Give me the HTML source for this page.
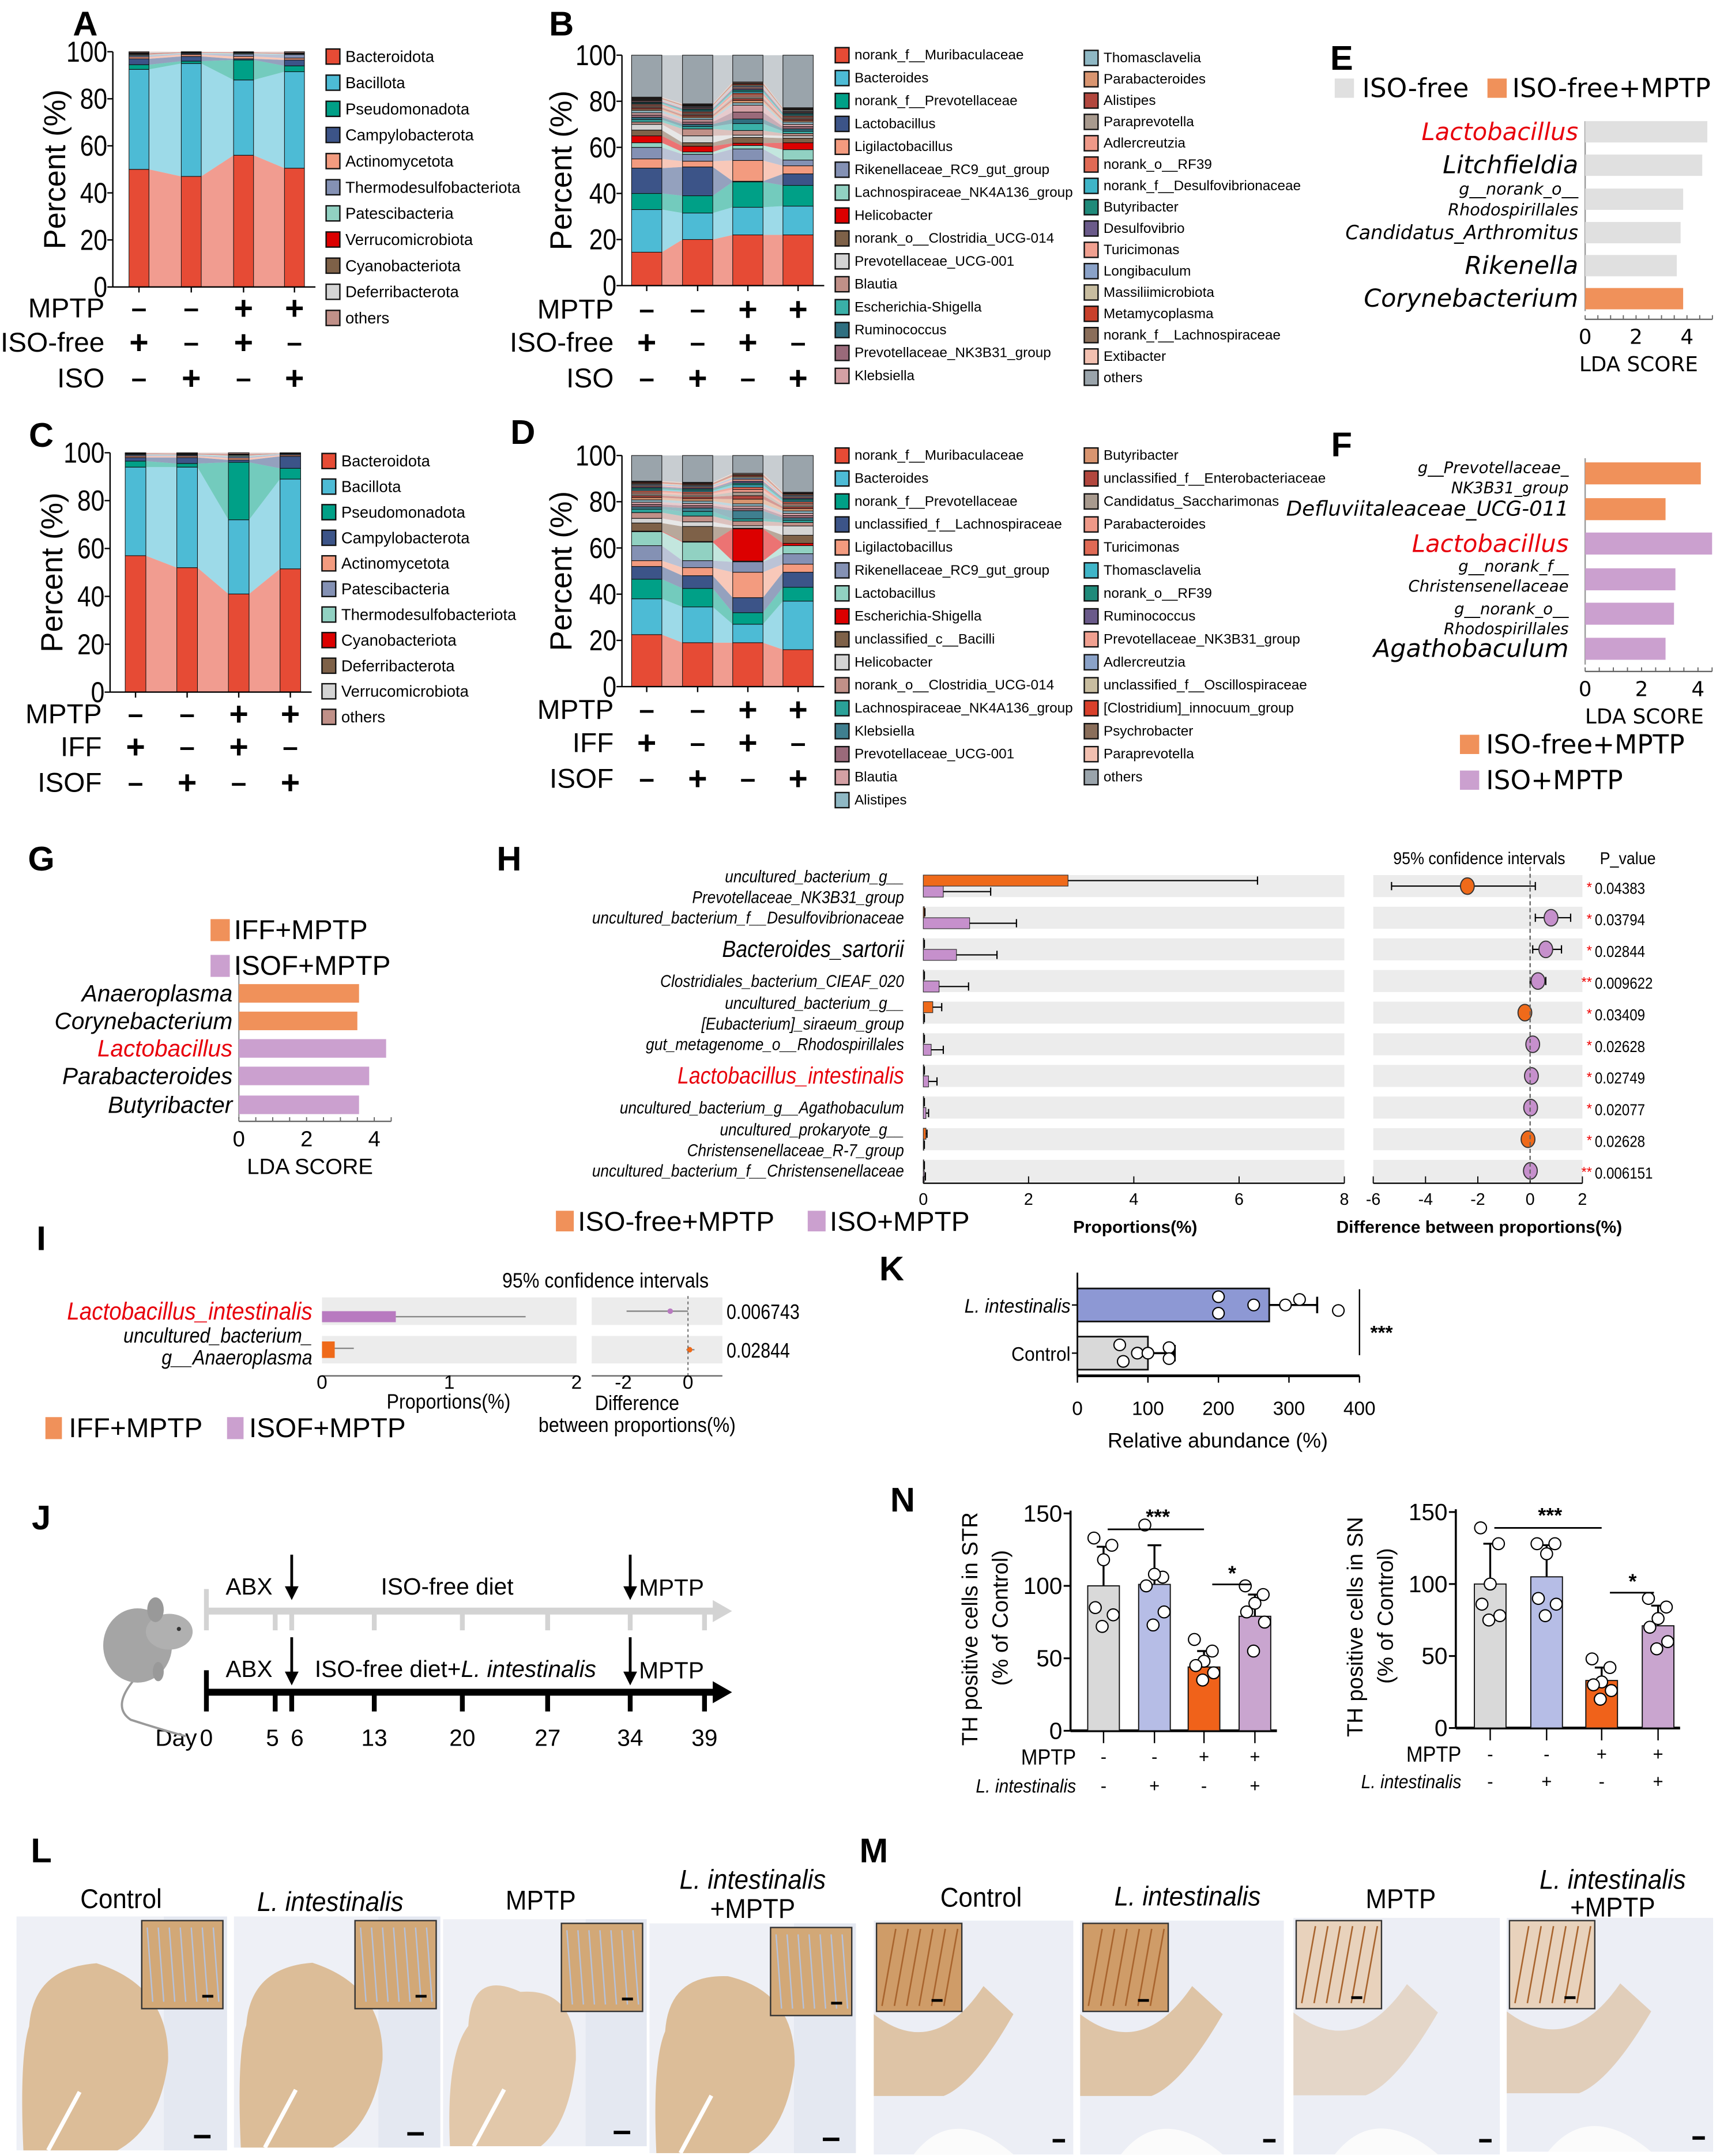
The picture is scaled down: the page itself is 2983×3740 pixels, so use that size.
<!DOCTYPE html>
<html><head><meta charset="utf-8"><style>html,body{margin:0;padding:0;background:#fff}svg{display:block}</style></head>
<body>
<svg id="fig" xmlns="http://www.w3.org/2000/svg" width="2983" height="3740" viewBox="0 0 1250 1567" font-family="'Liberation Sans', Arial, sans-serif">
<rect x="0" y="0" width="1250" height="1567" fill="#fff"/>
</svg>
<script>
// ---------- DATA ----------
const groupsABCD = ['g1','g2','g3','g4'];
const phylaA = ['Bacteroidota','Bacillota','Pseudomonadota','Campylobacterota','Actinomycetota','Thermodesulfobacteriota','Patescibacteria','Verrucomicrobiota','Cyanobacteriota','Deferribacterota','others'];
const colA = ['#e64b35','#4dbbd5','#00a087','#3c5488','#f39b7f','#8491b4','#91d1c2','#dc0000','#7e6148','#d4d4d4','#c09088'];
const valsA = [[50,47,56,50.5],[42.5,48,32,41],[2,1,8.5,2.5],[2.5,2,0.5,2.5],[0.8,0.8,1,0.8],[0.6,0.4,1,1.5],[0.4,0.3,0.4,0.3],[0.3,0.2,0.2,0.2],[0.3,0.1,0.1,0.1],[0.2,0.1,0.1,0.1]];
const phylaC = ['Bacteroidota','Bacillota','Pseudomonadota','Campylobacterota','Actinomycetota','Patescibacteria','Thermodesulfobacteriota','Cyanobacteriota','Deferribacterota','Verrucomicrobiota','others'];
const colC = ['#e64b35','#4dbbd5','#00a087','#3c5488','#f39b7f','#8491b4','#91d1c2','#dc0000','#7e6148','#d4d4d4','#c09088'];
const valsC = [[57,52,41,51.5],[37,42,31,37.5],[2.5,1.5,24,4.5],[1.5,2.5,1,5],[0.6,0.6,0.8,0.5],[0.5,0.4,0.6,0.4],[0.3,0.3,0.5,0.2],[0.2,0.2,0.3,0.1],[0.2,0.1,0.2,0.1],[0.1,0.1,0.1,0.1]];
const generaB = ['norank_f__Muribaculaceae','Bacteroides','norank_f__Prevotellaceae','Lactobacillus','Ligilactobacillus','Rikenellaceae_RC9_gut_group','Lachnospiraceae_NK4A136_group','Helicobacter','norank_o__Clostridia_UCG-014','Prevotellaceae_UCG-001','Blautia','Escherichia-Shigella','Ruminococcus','Prevotellaceae_NK3B31_group','Klebsiella','Thomasclavelia','Parabacteroides','Alistipes','Paraprevotella','Adlercreutzia','norank_o__RF39','norank_f__Desulfovibrionaceae','Butyribacter','Desulfovibrio','Turicimonas','Longibaculum','Massiliimicrobiota','Metamycoplasma','norank_f__Lachnospiraceae','Extibacter','others'];
const colB = ['#e64b35','#4dbbd5','#00a087','#3c5488','#f39b7f','#8491b4','#91d1c2','#dc0000','#7e6148','#d4d4d4','#c09088','#3ab0a8','#2f6f80','#9a6a7a','#d4a0a4','#8fb8c4','#d99570','#b2473e','#a89a8e','#ee9988','#e06a55','#3fb5c8','#1f8a7a','#6a5a8a','#f0a090','#8aa2c8','#c8bda0','#c8402b','#8a6e5a','#f2c0b0','#9aa4ab'];
const valsB = [[14.5,20,22,22],[18.5,11.5,12,12.5],[7,7.5,11,9],[11,12.5,0.3,5],[4,2.5,9,3.5],[5,3,5,2.5],[2,1,1.5,4.5],[3,2.5,1,3],[2.5,1.5,2.5,2],[2.5,3,1,1],[1,3,2,1],[1,1,3,1],[1,1,2,1],[1,1,3,1],[1,1,3,1],[1,0.8,1,1],[0.6,0.6,1,0.6],[0.6,0.6,0.8,0.6],[0.5,0.5,0.8,0.5],[0.5,0.5,0.8,0.5],[0.5,0.5,0.8,0.5],[0.4,0.5,0.7,0.5],[0.4,0.5,0.7,0.5],[0.4,0.4,0.6,0.4],[0.4,0.4,0.6,0.4],[0.3,0.4,0.5,0.4],[0.3,0.3,0.5,0.4],[0.3,0.3,0.5,0.3],[0.3,0.3,0.4,0.3],[0.3,0.3,0.4,0.3]];
const generaD = ['norank_f__Muribaculaceae','Bacteroides','norank_f__Prevotellaceae','unclassified_f__Lachnospiraceae','Ligilactobacillus','Rikenellaceae_RC9_gut_group','Lactobacillus','Escherichia-Shigella','unclassified_c__Bacilli','Helicobacter','norank_o__Clostridia_UCG-014','Lachnospiraceae_NK4A136_group','Klebsiella','Prevotellaceae_UCG-001','Blautia','Alistipes','Butyribacter','unclassified_f__Enterobacteriaceae','Candidatus_Saccharimonas','Parabacteroides','Turicimonas','Thomasclavelia','norank_o__RF39','Ruminococcus','Prevotellaceae_NK3B31_group','Adlercreutzia','unclassified_f__Oscillospiraceae','[Clostridium]_innocuum_group','Psychrobacter','Paraprevotella','others'];
const colD = ['#e64b35','#4dbbd5','#00a087','#3c5488','#f39b7f','#8491b4','#91d1c2','#dc0000','#7e6148','#d4d4d4','#c09088','#2aa198','#3f7f8f','#9a6a7a','#d4a0a4','#8fb8c4','#d99570','#b2473e','#a89a8e','#ee9988','#e06a55','#3fb5c8','#1f8a7a','#6a5a8a','#f0a090','#8aa2c8','#c8bda0','#d9402b','#8a6e5a','#f2c0b0','#9aa4ab'];
const valsD = [[22.5,19,19,16],[15.5,15.5,8,21],[8.5,8,5,6],[5.5,5.5,6.5,6.5],[2.5,3.5,11,3.5],[6.5,3,4.5,4.5],[6,8,0.3,3.5],[0.3,0.3,14,1],[3.5,6.5,0.3,3.5],[2,2,1,4],[2.5,2.5,2,1.5],[1.5,2,1,1],[1,1.5,3.5,1],[1,1,1,1],[1,1,1,1],[1,1,1,1],[1,1,2,1],[0.8,0.8,1.5,0.8],[0.8,0.8,1.5,0.8],[0.7,0.7,1.2,0.7],[0.7,0.7,1,0.7],[0.6,0.6,1,0.6],[0.6,0.6,0.8,0.6],[0.5,0.5,0.8,0.5],[0.5,0.5,0.8,0.5],[0.5,0.5,0.6,0.5],[0.4,0.4,0.6,0.4],[0.4,0.4,0.5,0.4],[0.3,0.3,0.5,0.3],[0.3,0.3,0.4,0.3]];
const ldaE_labels = [['Lactobacillus'],['Litchfieldia'],['g__norank_o__','Rhodospirillales'],['Candidatus_Arthromitus'],['Rikenella'],['Corynebacterium']];
const ldaE_values = [4.8,4.6,3.85,3.75,3.6,3.85];
const ldaE_groups = [0,0,0,0,0,1];
const ldaF_labels = [['g__Prevotellaceae_','NK3B31_group'],['Defluviitaleaceae_UCG-011'],['Lactobacillus'],['g__norank_f__','Christensenellaceae'],['g__norank_o__','Rhodospirillales'],['Agathobaculum']];
const ldaF_values = [4.1,2.85,4.5,3.2,3.15,2.85];
const ldaF_groups = [0,0,1,1,1,1];
const ldaG_labels = ['Anaeroplasma','Corynebacterium','Lactobacillus','Parabacteroides','Butyribacter'];
const ldaG_values = [3.55,3.5,4.35,3.85,3.55];
const ldaG_groups = [0,0,1,1,1];
const hLabels = [['uncultured_bacterium_g__','Prevotellaceae_NK3B31_group'],['uncultured_bacterium_f__Desulfovibrionaceae'],['Bacteroides_sartorii'],['Clostridiales_bacterium_CIEAF_020'],['uncultured_bacterium_g__','[Eubacterium]_siraeum_group'],['gut_metagenome_o__Rhodospirillales'],['Lactobacillus_intestinalis'],['uncultured_bacterium_g__Agathobaculum'],['uncultured_prokaryote_g__','Christensenellaceae_R-7_group'],['uncultured_bacterium_f__Christensenellaceae']];
const hIsoFree = [2.75,0.02,0.01,0.01,0.18,0.01,0.01,0.01,0.05,0.01];
const hIsoFreeErr = [6.35,0.03,0.02,0.02,0.35,0.02,0.02,0.02,0.07,0.02];
const hIso = [0.38,0.88,0.63,0.3,0.01,0.15,0.1,0.05,0.01,0.02];
const hIsoErr = [1.28,1.77,1.4,0.86,0.02,0.38,0.26,0.1,0.02,0.04];
const hDiff = [-2.4,0.8,0.6,0.3,-0.2,0.1,0.05,0.02,-0.08,0.01];
const hLo = [-5.3,0.2,0.1,0.0,-0.3,0.0,0.0,-0.02,-0.15,-0.02];
const hHi = [0.2,1.55,1.2,0.6,-0.1,0.2,0.1,0.06,0.0,0.04];
const hP = ['0.04383','0.03794','0.02844','0.009622','0.03409','0.02628','0.02749','0.02077','0.02628','0.006151'];
const hStars = ['*','*','*','**','*','*','*','*','*','**'];
const iIsof = [0.58,0.0];
const iIsofErr = [1.6,0.0];
const iIff = [0.0,0.1];
const iIffErr = [0.0,0.25];
const iDiff = [-0.55,0.05];
const iLo = [-1.9,-0.05];
const iHi = [0.0,0.2];
const iP = ['0.006743','0.02844'];
const kCats = ['L. intestinalis','Control'];
const kMeans = [272,100];
const kSd = [68,38];
const kPoints = [[200,200,250,295,315,370],[60,65,85,100,130,130]];
const nGroups = ['Control','L. intestinalis','MPTP','L. intestinalis+MPTP'];
const nSTR = [100,101,44,79];
const nSTRsd = [27,27,11,15];
const nSTRpts = [[133,128,118,85,80,72],[142,106,108,100,82,73],[63,55,48,45,40,35],[100,94,88,82,75,55]];
const nSN = [100,105,33,71];
const nSNsd = [28,22,9,14];
const nSNpts = [[139,128,100,86,78,75],[128,128,121,90,86,78],[48,42,32,30,26,20],[90,84,76,70,60,55]];
const days = [0,5,6,13,20,27,34,39];

// ---------- HELPERS ----------
const NS='http://www.w3.org/2000/svg';
const svg=document.getElementById('fig');
function mk(tag,at,par){const e=document.createElementNS(NS,tag);for(const k in at)e.setAttribute(k,at[k]);(par||svg).appendChild(e);return e;}
function tx(s,x,y,size,o){o=o||{};const e=mk('text',{x:x,y:y,'font-size':size,'text-anchor':o.a||'start',fill:o.c||'#000','dominant-baseline':'central'});
 if(o.i)e.setAttribute('font-style','italic'); if(o.b)e.setAttribute('font-weight','bold'); if(o.f)e.setAttribute('font-family',o.f);
 if(o.r)e.setAttribute('transform','rotate(-90 '+x+' '+y+')'); if(o.sx)e.setAttribute('transform','translate('+x+' '+y+') scale('+o.sx+' 1) translate('+(-x)+' '+(-y)+')');
 e.textContent=s;return e;}
function line(x1,y1,x2,y2,c,w,par){return mk('line',{x1:x1,y1:y1,x2:x2,y2:y2,stroke:c||'#000','stroke-width':w||1},par);}

const letters=[['A',62,17],['B',408,17],['E',975,42],['C',30,316],['D',380,314],['F',975,323],['G',30,624],['H',370,624],['I',30,900],['K',648,922],['J',30,1103],['N',656,1090],['L',30,1345],['M',635,1345]];
letters.forEach(l=>{const t=tx(l[0],l[1],l[2],25,{b:true,a:'middle'});
 
 });

// ---------- STACKED ----------
function stacked(pid,vals,cols,names,ax){
 const g=mk('g',{});
 
 
 const Y=v=>ax.yb-(ax.yb-ax.yt)*v/100;
 const n=ax.cx.length;
 const series=vals.map(a=>a.slice());
 const others=[];for(let i=0;i<n;i++){let s=0;vals.forEach(a=>s+=a[i]);others.push(Math.max(0,100-s));}
 series.push(others);
 const cum=new Array(n).fill(0);
 series.forEach((arr,si)=>{
  const lo=cum.slice(),hi=cum.map((c,i)=>c+arr[i]);
  for(let i=0;i<n-1;i++){
   const x1=ax.cx[i]+ax.w/2,x2=ax.cx[i+1]-ax.w/2;
   const p=mk('polygon',{points:`${x1},${Y(hi[i])} ${x2},${Y(hi[i+1])} ${x2},${Y(lo[i+1])} ${x1},${Y(lo[i])}`,fill:cols[si],'fill-opacity':0.55},g);
   
   
  }
  for(let i=0;i<n;i++){
   const r=mk('rect',{x:ax.cx[i]-ax.w/2,y:Y(hi[i]),width:ax.w,height:Math.max(0,Y(lo[i])-Y(hi[i])),fill:cols[si],stroke:'#111','stroke-width':0.45},g);
   
   
  }
  for(let i=0;i<n;i++)cum[i]=hi[i];
 });
 line(ax.ax,ax.yt,ax.ax,ax.yb,'#000',1,g);
 line(ax.ax,ax.yb,ax.cx[n-1]+ax.w/2+8,ax.yb,'#000',1,g);
 [0,20,40,60,80,100].forEach(t=>{line(ax.ax-4,Y(t),ax.ax,Y(t),'#000',1,g);
  const tt=tx(String(t),ax.ax-4,Y(t),21,{a:'end'});tt.setAttribute('transform','translate('+(ax.ax-4)+' '+Y(t)+') scale(0.85 1) translate('+(-(ax.ax-4))+' '+(-Y(t))+')');
  
  });
 ax.cx.forEach(c=>line(c,ax.yb,c,ax.yb+4,'#000',1,g));
 const yl=tx('Percent (%)',ax.ylx,(ax.yt+ax.yb)/2,22,{a:'middle',r:true});
 
 
 ax.rows.forEach(rw=>{const lb=tx(rw[0],ax.ax-6,rw[1],20,{a:'end'});
  
  
  rw[2].forEach((s,i)=>{const st=tx(s==='+'?'+':'\u2013',ax.cx[i],rw[1],s==='+'?24:20,{a:'middle',b:true});
   
   });});
}
function legend(names,cols,x,y0,step,size){
 names.forEach((nm,i)=>{const r=mk('rect',{x:x,y:y0+i*step-5.5,width:10,height:11,fill:cols[i],stroke:'#111','stroke-width':1});
  
  
  const t=tx(nm,x+14,y0+i*step,size);
  
  });
}
stacked('a',valsA,colA,phylaA,{ax:82,yt:37.5,yb:208.5,cx:[101,139,177,214],w:14.5,ylx:40,
 rows:[['MPTP',224,['-','-','+','+']],['ISO-free',249,['+','-','+','-']],['ISO',275,['-','+','-','+']]]});
legend(phylaA,colA,237,41,19,11.5);
stacked('c',valsC,colC,phylaC,{ax:80,yt:329,yb:503,cx:[98.5,136,173.5,211],w:15,ylx:38,
 rows:[['MPTP',519,['-','-','+','+']],['IFF',543,['+','-','+','-']],['ISOF',569,['-','+','-','+']]]});
legend(phylaC,colC,234,335,18.6,11.5);
stacked('b',valsB,colB,generaB,{ax:452,yt:40,yb:207.5,cx:[470,507,543.5,580],w:22,ylx:408,
 rows:[['MPTP',225,['-','-','+','+']],['ISO-free',249,['+','-','+','-']],['ISO',275,['-','+','-','+']]]});
legend(generaB.slice(0,15),colB.slice(0,15),607,40,16.65,10.2);
legend(generaB.slice(15),colB.slice(15),788,42,15.5,10.2);
stacked('d',valsD,colD,generaD,{ax:452,yt:331,yb:499,cx:[470,507,543.5,580],w:22,ylx:408,
 rows:[['MPTP',516,['-','-','+','+']],['IFF',540,['+','-','+','-']],['ISOF',566,['-','+','-','+']]]});
legend(generaD.slice(0,16),colD.slice(0,16),607,331,16.7,10.2);
legend(generaD.slice(16),colD.slice(16),788,331,16.7,10.2);

// ---------- LDA ----------
const ORANGE='#f0915a',PURPLE='#cba0cf',LGRAY='#e0e0e0';
function lda(pid,labels,values,groups,gcols,o){
 const X=v=>o.x0+v*o.k;
 line(o.x0,o.yt,o.x0,o.yb,'#999',1);
 line(o.x0,o.axy,o.x0+o.k*o.max,o.axy,'#666',1);
 for(let t=0;t<=o.max;t+=0.5){line(X(t),o.axy,X(t),o.axy-3,'#666',0.8);}
 [0,2,4].forEach(t=>{const tt=tx(String(t),X(t),o.axy+13,o.ts,{a:'middle',f:o.font});
  
  });
 const xt=tx('LDA SCORE',o.x0+o.k*2.1,o.axy+33,o.ts,{a:'middle',f:o.font});
 
 
 values.forEach((v,i)=>{const y=o.rows[i];
  const r=mk('rect',{x:o.x0,y:y-o.bh/2,width:X(v)-o.x0,height:o.bh,fill:gcols[groups[i]]});
  
  
  const lb=labels[i];
  if(typeof lb==='string'||lb.length===1){const s=typeof lb==='string'?lb:lb[0];
   const t=tx(s,o.lx,y,o.fs1(s),{a:'end',i:true,c:s==='Lactobacillus'?'#e8000b':'#000',f:o.font});
   
   }
  else{const off=(o.off&&o.off[i])||0;lb.forEach((s,j)=>{const t=tx(s,o.lx,y+off-o.ls/2+j*o.ls,o.fs2,{a:'end',i:true,f:o.font});
   
   });}
 });
}
const DV="'DejaVu Sans', Verdana, sans-serif";
lda('e',ldaE_labels,ldaE_values,ldaE_groups,[LGRAY,ORANGE],{x0:1152,k:18.5,max:5,yt:88,yb:226,axy:232,rows:[95.7,120,144.7,169,193,217],bh:15.5,lx:1147,ts:15,font:DV,fs2:12,ls:15,
 fs1:s=>s==='Candidatus_Arthromitus'?14:(s==='Lactobacillus'?17.5:18)});
lda('f',ldaF_labels,ldaF_values,ldaF_groups,[ORANGE,PURPLE],{x0:1152,k:20.5,max:4.5,yt:333,yb:483,axy:488,rows:[344,370,395,421,446,471.5],bh:16,lx:1140,ts:15,font:DV,fs2:11.5,ls:14.5,off:[3.5,0,0,-2,4,0],
 fs1:s=>s==='Defluviitaleaceae_UCG-011'?15:(s==='Agathobaculum'?18:17.5)});
lda('g',ldaG_labels,ldaG_values,ldaG_groups,[ORANGE,PURPLE],{x0:173.6,k:24.6,max:4.5,yt:705,yb:813,axy:815,rows:[722,742,762,782,803],bh:13.5,lx:169,ts:16,font:"'Liberation Sans', Arial, sans-serif",fs2:12,ls:15,
 fs1:s=>17});
[[970,LGRAY,'ISO-free',990],[1081,ORANGE,'ISO-free+MPTP',1099]].forEach(l=>{const r=mk('rect',{x:l[0],y:57,width:14,height:14,fill:l[1]});
 
 
 const t=tx(l[2],l[3],64,19,{f:DV});
 
 });
[[541,ORANGE,'ISO-free+MPTP'],[567,PURPLE,'ISO+MPTP']].forEach(l=>{const r=mk('rect',{x:1061,y:l[0]-7,width:14,height:14,fill:l[1]});
 
 
 const t=tx(l[2],1080,l[0],19,{f:DV});
 
 });
[[676,ORANGE,'IFF+MPTP'],[702,PURPLE,'ISOF+MPTP']].forEach(l=>{const r=mk('rect',{x:153,y:l[0]-8,width:14,height:16,fill:l[1]});
 
 
 const t=tx(l[2],170,l[0],20);
 
 });

// ---------- PANEL H ----------
const HOR='#ef6a1a',HPU='#c690cc';
const hx0=671,hk=(977-671)/8; const HX=v=>hx0+v*hk;
const dx0=998,dk=(1150-998)/8; const DX=v=>dx0+(v+6)*dk;
hLabels.forEach((lb,i)=>{
 const y=644+i*23;
 const s1=mk('rect',{x:hx0,y:y-8,width:977-hx0,height:16,fill:'#ececec'});
 
 
 const s2=mk('rect',{x:dx0,y:y-8,width:1150-dx0,height:16,fill:'#ececec'});
 
 
 const b1=mk('rect',{x:hx0,y:y-8,width:HX(hIsoFree[i])-hx0,height:8,fill:HOR,stroke:'#333','stroke-width':0.5});
 
 
 line(HX(hIsoFree[i]),y-4,HX(hIsoFreeErr[i]),y-4,'#000',0.9);
 line(HX(hIsoFreeErr[i]),y-7,HX(hIsoFreeErr[i]),y-1,'#000',0.9);
 const b2=mk('rect',{x:hx0,y:y,width:HX(hIso[i])-hx0,height:8,fill:HPU,stroke:'#333','stroke-width':0.5});
 
 
 line(HX(hIso[i]),y+4,HX(hIsoErr[i]),y+4,'#000',0.9);
 line(HX(hIsoErr[i]),y+1,HX(hIsoErr[i]),y+7,'#000',0.9);
 line(DX(hLo[i]),y,DX(hHi[i]),y,'#000',0.9);
 line(DX(hLo[i]),y-3,DX(hLo[i]),y+3,'#000',0.9);
 line(DX(hHi[i]),y-3,DX(hHi[i]),y+3,'#000',0.9);
 const c=mk('ellipse',{cx:DX(hDiff[i]),cy:y,rx:5,ry:6,fill:hDiff[i]<0?HOR:HPU,stroke:'#333','stroke-width':0.8});
 
 
 const st=tx(hStars[i],1157,y+1,10,{a:'end',c:'#e00'});
 
 
 const pv=tx(hP[i],1159,y+2,11.5,{sx:0.88});
 
 
 if(lb.length===1){const s=lb[0];const big=(s==='Bacteroides_sartorii'||s==='Lactobacillus_intestinalis');
  const t=tx(s,657,y,big?17:12.5,{a:'end',i:true,c:s==='Lactobacillus_intestinalis'?'#e8000b':'#000',sx:0.88});
  
  }
 else{lb.forEach((s,j)=>{const t=tx(s,657,y-7+j*15,12.5,{a:'end',i:true,sx:0.88});
  
  });}
});
line(hx0,860,977,860,'#000',1); line(dx0,860,1150,860,'#000',1);
for(let t=0;t<=8;t+=2){line(HX(t),860,HX(t),855,'#000',0.8);const tt=tx(String(t),HX(t),872,12,{a:'middle'});
 
 }
for(let t=-6;t<=2;t+=2){line(DX(t),860,DX(t),855,'#000',0.8);const tt=tx(String(t),DX(t),872,12,{a:'middle'});
 
 }
mk('line',{x1:DX(0),y1:630,x2:DX(0),y2:860,stroke:'#666','stroke-width':1,'stroke-dasharray':'3,2'});
[['95% confidence intervals',1075,624,12.5],['P_value',1183,624,12.5]].forEach(a=>{const t=tx(a[0],a[1],a[2],a[3],{a:'middle',sx:0.9});
 
 });
[['Proportions(%)',825,892],['Difference between proportions(%)',1075,892]].forEach(a=>{const t=tx(a[0],a[1],a[2],12.5,{a:'middle',b:true});
 
 });
[[404,'#f0915a','ISO-free+MPTP',420],[587,PURPLE,'ISO+MPTP',603]].forEach(l=>{const r=mk('rect',{x:l[0],y:880,width:13,height:15,fill:l[1]});
 
 
 const t=tx(l[2],l[3],888,20);
 
 });

// ---------- PANEL I ----------
const ix0=234,ik=(419-234)/2; const IX=v=>ix0+v*ik;
const jx0=430,jx1=525; const JX=v=>500+v*((500-453)/2);
[953,981].forEach((y,i)=>{
 const s1=mk('rect',{x:ix0,y:y-10,width:419-ix0,height:20,fill:'#ececec'});
 
 
 const s2=mk('rect',{x:jx0,y:y-10,width:jx1-jx0,height:20,fill:'#ececec'});
 
 
 if(iIsof[i]>0){const b=mk('rect',{x:ix0,y:y,width:IX(iIsof[i])-ix0,height:8,fill:'#b87ac0'});
  
  
  line(IX(iIsof[i]),y+4,IX(iIsofErr[i]),y+4,'#888',1);}
 if(iIff[i]>0){const b=mk('rect',{x:ix0,y:y-6,width:IX(iIff[i])-ix0,height:12,fill:'#ef6a1a'});
  
  
  line(IX(iIff[i]),y-1,IX(iIffErr[i]),y-1,'#888',1);}
 line(JX(iLo[i]),y,JX(iHi[i]),y,'#888',1);
 const c=mk('circle',{cx:JX(iDiff[i]),cy:y,r:2,fill:iDiff[i]<0?'#b87ac0':'#ef6a1a'});
 
 
 const p=tx(iP[i],528,y+1,15,{sx:0.85});
 
 
});
mk('line',{x1:500,y1:942,x2:500,y2:1000,stroke:'#666','stroke-width':0.8,'stroke-dasharray':'2,2'});
line(ix0,1000,419,1000,'#666',1);line(jx0,1000,jx1,1000,'#666',1);
[0,1,2].forEach(t=>{const tt=tx(String(t),IX(t),1005,14,{a:'middle'});
 
 });
[-2,0].forEach(t=>{const tt=tx(String(t),JX(t),1005,14,{a:'middle'});
 
 });
[['95% confidence intervals',440,931,15],['Proportions(%)',326,1019,15],['Difference',463,1020,15],['between proportions(%)',463,1036,15]].forEach(a=>{const t=tx(a[0],a[1],a[2],a[3],{a:'middle',sx:0.9});
 
 });
{const t=tx('Lactobacillus_intestinalis',227,953,18,{a:'end',i:true,c:'#e8000b',sx:0.9});
 
 
 const t2=tx('uncultured_bacterium_',227,971,15,{a:'end',i:true,sx:0.9});
 
 
 const t3=tx('g__Anaeroplasma',227,987,15,{a:'end',i:true,sx:0.9});
 
 }
[[33,'#f0915a','IFF+MPTP',50],[165,PURPLE,'ISOF+MPTP',181]].forEach(l=>{const r=mk('rect',{x:l[0],y:1030,width:12,height:16,fill:l[1]});
 
 
 const t=tx(l[2],l[3],1038,20);
 
 });

// ---------- PANEL K ----------
const kx0=783,kk=(988-783)/400; const KX=v=>kx0+v*kk;
const kY=[948.5,983.5],kCol=['#8d98d4','#d9d9d9'];
line(kx0,925,kx0,1000,'#000',1.2);line(kx0,1000,988,1000,'#000',2);
[0,100,200,300,400].forEach(t=>{line(KX(t),1000,KX(t),1005,'#000',1);const tt=tx(String(t),KX(t),1024,14,{a:'middle'});
 
 });
kCats.forEach((c,i)=>{const y=kY[i];
 const b=mk('rect',{x:kx0,y:y-12,width:KX(kMeans[i])-kx0,height:24,fill:kCol[i],stroke:'#111','stroke-width':1.2});
 
 
 line(KX(kMeans[i]),y,KX(kMeans[i]+kSd[i]),y,'#000',1.5);
 line(KX(kMeans[i]+kSd[i]),y-6,KX(kMeans[i]+kSd[i]),y+6,'#000',1.5);
 kPoints[i].forEach((p,j)=>{const d=mk('circle',{cx:KX(p),cy:y+[-6,6,0,0,-4,4][j],r:4.2,fill:'#fff',stroke:'#000','stroke-width':0.9});
  
  });
 line(kx0-4,y,kx0,y,'#000',1);
 const t=tx(c,kx0-5,y+1,14.5,{a:'end',i:i===0,sx:0.92});
 
 
});
line(988,937,988,985,'#000',1);
{const t=tx('***',1004,969,14,{a:'middle',b:true});
 
 
 const t2=tx('Relative abundance (%)',885,1047,15,{a:'middle'});
 
 }

// ---------- PANEL N ----------
const NCOL=['#d9d9d9','#b6bde6','#f0621a','#c9a5cf'];
function nchart(pid,means,sds,pts,o){
 const Y=v=>o.yb-(o.yb-o.yt)*v/150;
 line(o.ax,o.yt-2,o.ax,o.yb,'#000',1.5);line(o.ax,o.yb,o.cx[3]+16,o.yb,'#000',2);
 [0,50,100,150].forEach(t=>{line(o.ax-5,Y(t),o.ax,Y(t),'#000',1.3);const tt=tx(String(t),o.ax-6,Y(t),17,{a:'end'});
  
  });
 means.forEach((m,i)=>{const cx=o.cx[i];
  line(cx,Y(m),cx,Y(m+sds[i]),'#000',1.4);line(cx-5,Y(m+sds[i]),cx+5,Y(m+sds[i]),'#000',1.4);
  const b=mk('rect',{x:cx-11.5,y:Y(m),width:23,height:o.yb-Y(m),fill:NCOL[i],stroke:'#111','stroke-width':0.8});
  
  
  line(cx,o.yb,cx,o.yb+9,'#000',1);
  pts[i].forEach((p,j)=>{const d=mk('circle',{cx:cx+[-7,6,0,-6,7,-1][j],cy:Y(p),r:4.3,fill:'#fff',stroke:'#000','stroke-width':0.9});
   
   });
 });
 line(o.cx[0]+3,Y(o.s1),o.cx[2],Y(o.s1),'#000',1.2);
 line(o.cx[2]+6,Y(o.s2),o.cx[3]-3,Y(o.s2),'#000',1.2);
 const s1=tx('***',(o.cx[0]+o.cx[2])/2+3,Y(o.s1)-9,15,{a:'middle',b:true});
 
 
 const s2=tx('*',(o.cx[2]+o.cx[3])/2+2,Y(o.s2)-8,15,{a:'middle',b:true});
 
 
 const y1=tx(o.title,o.ylx,(o.yt+o.yb)/2+5,16,{a:'middle',r:true});
 
 
 const y2=tx('(% of Control)',o.ylx+22,(o.yt+o.yb)/2-3,16,{a:'middle',r:true});
 
 
 [['MPTP',o.r1,['-','-','+','+'],false],['L. intestinalis',o.r2,['-','+','-','+'],true]].forEach(rw=>{
  const l=tx(rw[0],o.lx,rw[1],rw[3]?14:16,{a:'end',i:rw[3],sx:0.9});
  
  
  rw[2].forEach((s,i)=>{const t=tx(s,o.cx[i],rw[1],13,{a:'middle'});
   
   });});
}
nchart('str',nSTR,nSTRsd,nSTRpts,{ax:778,yt:1100,yb:1258,cx:[802,839,875,912],s1:139,s2:101,title:'TH positive cells in STR',ylx:705,lx:782,r1:1277,r2:1298});
nchart('sn',nSN,nSNsd,nSNpts,{ax:1058,yt:1099,yb:1256,cx:[1083,1124,1164,1205],s1:139,s2:94,title:'TH positive cells in SN',ylx:985,lx:1062,r1:1275,r2:1295});

// ---------- PANEL J ----------
const TX=d=>{const m={0:150,5:200,6:212,13:272,20:336,27:398,34:458,39:512};return m[d];};
function tl(y,col,w){
 line(150,y,520,y,col,w);
 mk('polygon',{points:`518,${y-8} 532,${y} 518,${y+8}`,fill:col});
 days.forEach(d=>{line(TX(d),d===0?y-16:y,TX(d),y+14,col,3.5);});
}
tl(1171,'#d3d3d3',5);tl(1230,'#000',5);
days.forEach(d=>{const t=tx(String(d),TX(d)+(d===5?-2:d===6?4:0),1263,17,{a:'middle'});
 
 });
{const t=tx('Day',128,1263,17,{a:'middle'});}
[[1130,1163],[1190,1225]].forEach(a=>{[212,458].forEach(x=>{line(x,a[0],x,a[1]-8,'#000',2);mk('polygon',{points:`${x-5},${a[1]-10} ${x+5},${a[1]-10} ${x},${a[1]}`,fill:'#000'});});});
[['ABX',181,1153],['ISO-free diet',325,1153],['MPTP',488,1154],['ABX',181,1213],['MPTP',488,1214]].forEach(a=>{const t=tx(a[0],a[1],a[2],17,{a:'middle'});
 
 });
{const t=mk('text',{x:331,y:1213,'font-size':17,'text-anchor':'middle','dominant-baseline':'central'});t.innerHTML='ISO-free diet+<tspan font-style="italic">L. intestinalis</tspan>';
 
 }
{const g=mk('g',{});
 mk('path',{d:'M100 1218 Q80 1240 95 1250 Q120 1258 135 1262',fill:'none',stroke:'#999','stroke-width':1.6},g);
 mk('ellipse',{cx:100,cy:1196,rx:25,ry:27,fill:'#a5a5a5'},g);
 mk('ellipse',{cx:123,cy:1186,rx:17,ry:13,fill:'#b0b0b0'},g);
 mk('ellipse',{cx:113,cy:1170,rx:6,ry:9,fill:'#999'},g);
 mk('circle',{cx:130,cy:1184,r:1.5,fill:'#333'},g);
 mk('ellipse',{cx:115,cy:1215,rx:4,ry:7,fill:'#999'},g);}

// ---------- HISTOLOGY L ----------
function histoL(x,y,w,h,scale,title,idx){
 const g=mk('g',{});
 mk('rect',{x:x,y:y,width:w,height:h,fill:'#eef0f6'},g);
 mk('rect',{x:x+w*0.7,y:y,width:w*0.3,height:h,fill:'#e4e8f1'},g);
 const cx=x+w*0.38,cy=y+h*0.62;
 mk('path',{d:`M${x+5} ${y+h} Q${x+2} ${y+h*0.6} ${cx-w*0.32*scale} ${cy-h*0.15} Q${cx-w*0.3*scale} ${y+h*0.22} ${cx} ${y+h*(0.2+(1-scale)*0.6)} Q${cx+w*0.35*scale} ${y+h*0.3} ${cx+w*0.34*scale} ${cy} Q${cx+w*0.3*scale} ${y+h*0.9} ${cx+w*0.1} ${y+h} Z`,fill:scale<0.9?'#e2c8aa':'#dcbd98'},g);
 mk('path',{d:`M${x+w*0.15} ${y+h} L${x+w*0.3} ${y+h*0.75}`,stroke:'#fff','stroke-width':3},g);
 mk('rect',{x:x+w-62,y:y+3,width:59,height:64,fill:'#d2a877',stroke:'#333','stroke-width':1},g);
 for(let k=0;k<7;k++)mk('line',{x1:x+w-58+k*8,y1:y+8,x2:x+w-54+k*8,y2:y+62,stroke:'#b5c2dc','stroke-width':1},g);
 mk('line',{x1:x+w-18,y1:y+58,x2:x+w-10,y2:y+58,stroke:'#000','stroke-width':2},g);
 mk('line',{x1:x+w-24,y1:y+h-10,x2:x+w-12,y2:y+h-10,stroke:'#000','stroke-width':2.5},g);
}
histoL(12,1393,153,170,1,'Control',1);
histoL(170,1393,150,168,1,'L',2);
histoL(322,1395,148,165,0.8,'MPTP',3);
histoL(472,1398,150,167,0.95,'LM',4);
function histoM(x,y,w,h,str,idx){
 const g=mk('g',{});
 mk('rect',{x:x,y:y,width:w,height:h,fill:'#eceef5'},g);
 mk('path',{d:`M${x} ${y+h*0.4} Q${x+w*0.3} ${y+h*0.6} ${x+w*0.55} ${y+h*0.28} L${x+w*0.7} ${y+h*0.4} Q${x+w*0.5} ${y+h*0.7} ${x+w*0.35} ${y+h*0.75} L${x} ${y+h*0.75} Z`,fill:'#dbb992','fill-opacity':str},g);
 mk('path',{d:`M${x+w*0.2} ${y+h} Q${x+w*0.4} ${y+h*0.78} ${x+w*0.7} ${y+h} Z`,fill:'#fbfbfb'},g);
 mk('rect',{x:x+2,y:y+2,width:62,height:64,fill:str>0.6?'#cf9c68':'#e8d2bc',stroke:'#333','stroke-width':1},g);
 for(let k=0;k<6;k++)mk('line',{x1:x+6+k*9,y1:y+62,x2:x+16+k*9,y2:y+6,stroke:'#a8642e','stroke-width':1.1},g);
 mk('line',{x1:x+42,y1:y+58,x2:x+50,y2:y+58,stroke:'#000','stroke-width':2},g);
 mk('line',{x1:x+w-15,y1:y+h-10,x2:x+w-6,y2:y+h-10,stroke:'#000','stroke-width':2.5},g);
}
histoM(635,1396,145,170,0.8,1);
histoM(785,1396,148,170,0.8,2);
histoM(940,1394,150,172,0.45,3);
histoM(1095,1394,150,170,0.6,4);
[['Control',88,1380,false],['L. intestinalis',240,1382,true],['MPTP',393,1381,false],['L. intestinalis',547,1366,true],['+MPTP',547,1387,false],
 ['Control',713,1379,false],['L. intestinalis',863,1378,true],['MPTP',1018,1380,false],['L. intestinalis',1172,1366,true],['+MPTP',1172,1386,false]].forEach(a=>{
 const t=tx(a[0],a[1],a[2],20,{a:'middle',i:a[3],sx:0.92});
 
 });
</script>
</body></html>
